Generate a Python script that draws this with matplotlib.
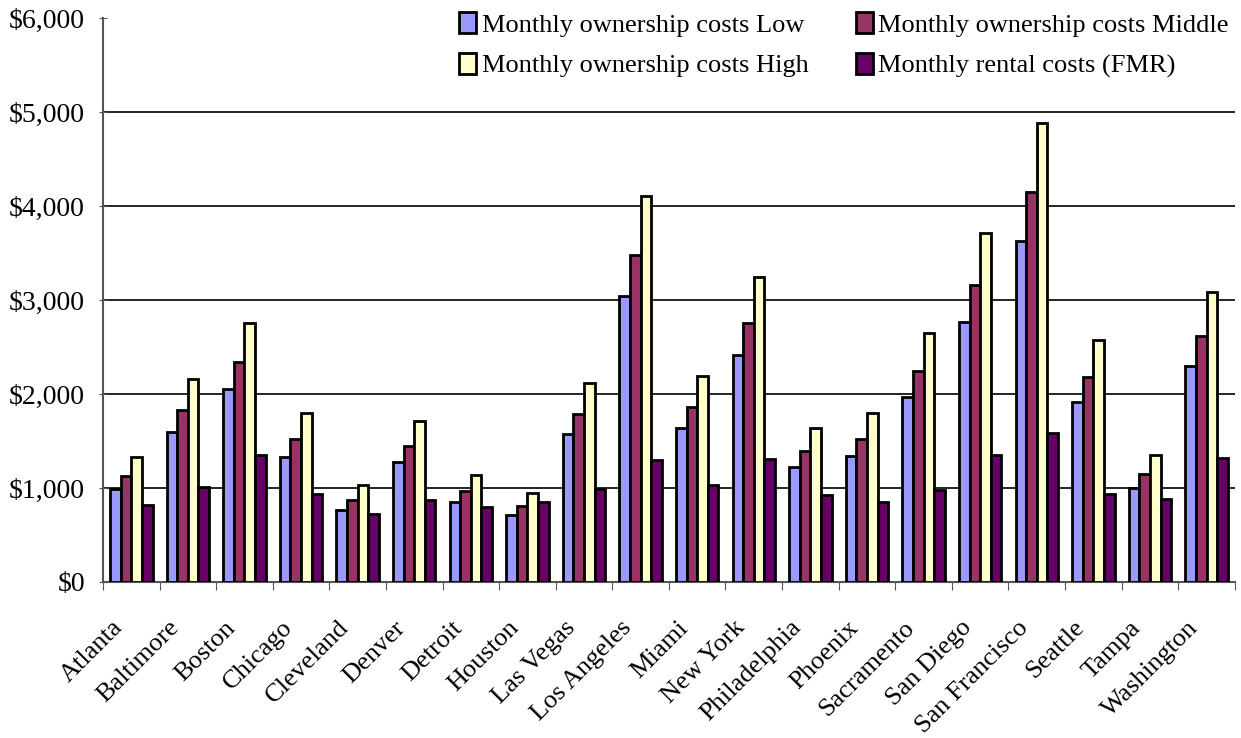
import numpy as np
import matplotlib.pyplot as plt
import matplotlib.transforms as mtransforms
from matplotlib.ticker import FuncFormatter

plt.rcParams['font.family'] = ['Liberation Serif', 'DejaVu Serif']

cities = ["Atlanta", "Baltimore", "Boston", "Chicago", "Cleveland", "Denver",
          "Detroit", "Houston", "Las Vegas", "Los Angeles", "Miami", "New York",
          "Philadelphia", "Phoenix", "Sacramento", "San Diego", "San Francisco",
          "Seattle", "Tampa", "Washington"]

# monthly costs
own_low = [986, 1599, 2050, 1333, 770, 1277, 848, 709, 1571, 3046,
           1635, 2411, 1223, 1337, 1968, 2770, 3631, 1915, 1004, 2298]
own_mid = [1128, 1830, 2344, 1521, 876, 1450, 968, 805, 1791, 3479,
           1858, 2755, 1394, 1525, 2245, 3156, 4145, 2184, 1145, 2621]
own_high = [1326, 2156, 2759, 1794, 1028, 1709, 1138, 947, 2113, 4103,
            2191, 3241, 1642, 1798, 2645, 3716, 4883, 2574, 1348, 3089]
rent_fmr = [819, 1014, 1355, 940, 723, 869, 801, 848, 993, 1294,
            1028, 1312, 926, 855, 982, 1348, 1589, 936, 879, 1319]

series = [
    ("Monthly ownership costs Low", own_low, "#9999FF"),
    ("Monthly ownership costs Middle", own_mid, "#993366"),
    ("Monthly ownership costs High", own_high, "#FFFFCC"),
    ("Monthly rental costs (FMR)", rent_fmr, "#660066"),
]

fig = plt.figure(figsize=(12.41, 7.38), dpi=100)
ax = fig.add_axes([0.083, 0.2114, 0.912, 0.7642])

x = np.arange(len(cities))
w = 0.1875
bars = []
for i, (name, vals, col) in enumerate(series):
    b = ax.bar(x + (i - 1.5) * w, vals, w, color=col, edgecolor="black",
               linewidth=2.0, label=name, zorder=3)
    bars.append(b)

ax.set_xlim(-0.5, len(cities) - 0.5)
ax.set_ylim(0, 6000)
ax.set_yticks(np.arange(0, 6001, 1000))
ax.yaxis.set_major_formatter(FuncFormatter(lambda v, p: "${:,.0f}".format(v)))
for yv in range(1000, 6000, 1000):
    ax.axhline(yv, color="black", linewidth=1.2, zorder=1)

ax.set_xticks(np.arange(len(cities) + 1) - 0.5)
ax.set_xticklabels([])
ax.set_xticks(x, minor=True)
ax.set_xticklabels(cities, minor=True, rotation=45, ha="right",
                   rotation_mode="anchor", fontsize=19)
ax.tick_params(axis="x", which="minor", length=0, pad=12)
ax.tick_params(axis="x", which="major", length=6, direction="out", color="#555555")
ax.tick_params(axis="y", length=6, direction="inout", pad=10, labelsize=20,
               color="#555555")

# nudge the city names down and to the left
shift = mtransforms.ScaledTranslation(-0.20, -0.18, fig.dpi_scale_trans)
for lab in ax.get_xticklabels(minor=True):
    lab.set_transform(lab.get_transform() + shift)

for s in ["top", "right"]:
    ax.spines[s].set_visible(False)
ax.spines["left"].set_color("#555555")
ax.spines["bottom"].set_color("#555555")
ax.spines["left"].set_linewidth(1.5)
ax.spines["bottom"].set_linewidth(1.5)

# row-major order: Low, Middle / High, FMR
order = [0, 2, 1, 3]
leg = fig.legend([bars[k] for k in order], [series[k][0] for k in order],
                 ncol=2, loc="upper right", bbox_to_anchor=(1.003, 1.005),
                 frameon=False, fontsize=19, handlelength=0.65, handleheight=0.85,
                 handletextpad=0.2, columnspacing=1.8, labelspacing=0.6,
                 borderaxespad=0.2)

fig.savefig("out.png", dpi=100, facecolor="white")
